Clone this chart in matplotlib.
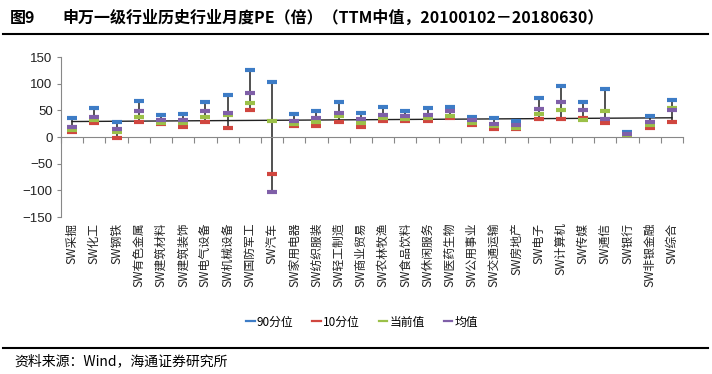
import matplotlib
matplotlib.use("Agg")
import matplotlib.pyplot as plt
from matplotlib.lines import Line2D
import numpy as np

plt.rcParams['font.family'] = ['Noto Sans CJK SC', 'DejaVu Sans']

# industries (SW level-1)
industries = [
    "SW采掘", "SW化工", "SW钢铁", "SW有色金属", "SW建筑材料", "SW建筑装饰",
    "SW电气设备", "SW机械设备", "SW国防军工", "SW汽车", "SW家用电器", "SW纺织服装",
    "SW轻工制造", "SW商业贸易", "SW农林牧渔", "SW食品饮料", "SW休闲服务", "SW医药生物",
    "SW公用事业", "SW交通运输", "SW房地产", "SW电子", "SW计算机", "SW传媒",
    "SW通信", "SW银行", "SW非银金融", "SW综合",
]

# PE values
p90 = [36, 54, 28, 68, 42, 44, 65, 78, 126, 103, 43, 49, 65, 45, 57, 49, 55, 57,
       37, 35, 30, 73, 96, 66, 90, 10, 40, 69]
p10 = [10, 26, -2.5, 29, 24, 19, 29, 17, 51, -69, 21, 21, 29, 19, 30, 30, 30, 35,
       22, 15, 15, 34, 34, 35, 26, 3, 17, 29]
current = [14, 32, 9, 37, 26, 26, 37, 41, 63, 30, 25, 29, 40, 26, 35, 34, 35, 40,
           27, 20, 17, 43, 51, 32, 48, 4, 22, 55]
mean = [19, 37, 15.5, 48, 31, 32, 48, 45, 83, -104, 30, 36, 45, 33, 41, 39, 41, 48,
        31, 24, 23, 53, 65, 51, 34, 6, 28, 50]
# straight reference line across the chart (start, end)
avg_line = [29, 36]

blue = '#3d7cc6'
red = '#d0463f'
green = '#9bc048'
purple = '#7f5fa8'

fig = plt.figure(figsize=(7.12, 3.74), dpi=100)
W, H = 712, 374
ax = fig.add_axes([61 / W, 1 - 217 / H, (683 - 61) / W, 160 / H])

x = np.arange(len(industries))
lo = np.minimum.reduce([p90, p10, current, mean])
hi = np.maximum.reduce([p90, p10, current, mean])
ax.vlines(x, lo, hi, color='#222222', lw=1.1, zorder=2)
ax.plot([x[0], x[-1]], avg_line, color='#222222', lw=1.0, zorder=2)

mk = dict(marker='_', markersize=7.5, mew=3.0, linestyle='none', zorder=3)
ax.plot(x, p90, color=blue, **mk)
ax.plot(x, p10, color=red, **mk)
ax.plot(x, current, color=green, **mk)
ax.plot(x, mean, color=purple, **mk)

ax.set_xlim(-0.5, len(industries) - 0.5)
ax.set_ylim(-150, 150)
ax.set_yticks(np.arange(-150, 151, 50))
ax.tick_params(axis='y', labelsize=9.5, length=3, color='#888888', labelcolor='#222222', pad=3)
for lab in ax.get_yticklabels():
    lab.set_family(['Liberation Sans', 'DejaVu Sans'])

for s in ['top', 'right']:
    ax.spines[s].set_visible(False)
ax.spines['left'].set_color('#888888')
ax.spines['bottom'].set_color('#888888')
ax.spines['bottom'].set_position(('data', 0))
ax.set_xticks(np.arange(-0.5, len(industries), 1.0))
ax.set_xticklabels([])
ax.tick_params(axis='x', length=4, color='#888888')

for i, name in enumerate(industries):
    ax.text(i, -0.035, name, transform=ax.get_xaxis_transform(), rotation=90,
            ha='center', va='top', fontsize=8.5, color='#222222')

handles = [Line2D([0], [0], color=c, lw=1.6) for c in (blue, red, green, purple)]
fig.legend(handles, ['90分位', '10分位', '当前值', '均值'], loc='center',
           bbox_to_anchor=(362 / W, 1 - 322 / H), ncol=4, frameon=False,
           fontsize=8.5, handlelength=0.7, handletextpad=0.2, columnspacing=1.6)

fig.text(10 / W, 1 - 18 / H, '图9', fontsize=11.5, fontweight='bold', va='center', ha='left')
fig.text(62 / W, 1 - 18 / H, '申万一级行业历史行业月度PE（倍）（TTM中值，20100102－20180630）',
         fontsize=11.5, fontweight='bold', va='center', ha='left')
fig.add_artist(Line2D([3 / W, 708 / W], [1 - 34 / H, 1 - 34 / H], color='black', lw=1.5))
fig.add_artist(Line2D([3 / W, 708 / W], [1 - 348 / H, 1 - 348 / H], color='black', lw=1.5))
fig.text(14 / W, 1 - 361 / H, '资料来源：Wind，海通证券研究所', fontsize=10, va='center', ha='left')

fig.savefig('out.png', dpi=100)
